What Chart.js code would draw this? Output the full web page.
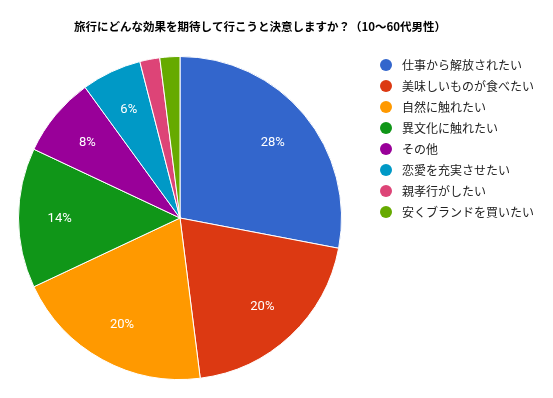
<!DOCTYPE html>
<html>
<head>
<meta charset="utf-8">
<script src="https://cdn.jsdelivr.net/npm/chart.js@4"></script>
<style>
  html, body { margin: 0; padding: 0; background: #fff; }
  #wrap { width: 553px; height: 398px; position: relative; }
</style>
</head>
<body>
<div id="wrap"><canvas id="myChart" width="553" height="398"></canvas></div>
<script>
const title = '旅行にどんな効果を期待して行こうと決意しますか？（10〜60代男性）';
const labels = ['仕事から解放されたい', '美味しいものが食べたい', '自然に触れたい', '異文化に触れたい',
                'その他', '恋愛を充実させたい', '親孝行がしたい', '安くブランドを買いたい'];
const values = [28, 20, 20, 14, 8, 6, 2, 2];
const colors = ['#3366cc', '#dc3912', '#ff9900', '#109618', '#990099', '#0099c6', '#dd4477', '#66aa00'];

const jpFont = '"Noto Sans CJK JP", "Noto Sans", sans-serif';

// タイトル・凡例・割合ラベルを描くプラグイン
const decor = {
    id: 'decor',
    afterDatasetsDraw(chart) {
        const ctx = chart.ctx;
        const total = values.reduce((a, b) => a + b, 0);

        // 割合ラベル
        ctx.save();
        ctx.fillStyle = '#fff';
        ctx.font = '13px Roboto, "Liberation Sans", Arial, sans-serif';
        ctx.textAlign = 'center';
        ctx.textBaseline = 'middle';
        chart.getDatasetMeta(0).data.forEach((arc, i) => {
            const pct = values[i] / total * 100;
            if (pct < 5) return;
            const p = arc.getProps(['x', 'y', 'startAngle', 'endAngle', 'outerRadius'], true);
            const mid = (p.startAngle + p.endAngle) / 2;
            const r = p.outerRadius * 0.745;
            ctx.fillText(Math.round(pct) + '%', p.x + Math.cos(mid) * r, p.y + Math.sin(mid) * r + 1);
        });
        ctx.restore();

        // タイトル
        ctx.save();
        ctx.fillStyle = '#000';
        ctx.font = 'bold 11.5px ' + jpFont;
        ctx.textAlign = 'center';
        ctx.textBaseline = 'middle';
        ctx.fillText(title, 260, 27);
        ctx.restore();

        // 凡例
        ctx.save();
        ctx.font = '12px ' + jpFont;
        ctx.textBaseline = 'middle';
        labels.forEach((label, i) => {
            const y = 65 + i * 21;
            ctx.fillStyle = colors[i];
            ctx.beginPath();
            ctx.arc(386, y, 6, 0, Math.PI * 2);
            ctx.fill();
            ctx.fillStyle = '#222';
            ctx.fillText(label, 402, y);
        });
        ctx.restore();
    }
};

new Chart(document.getElementById('myChart'), {
    type: 'pie',
    data: {
        labels: labels,
        datasets: [{
            data: values,
            backgroundColor: colors,
            borderColor: '#fff',
            borderWidth: 1
        }]
    },
    options: {
        responsive: false,
        animation: false,
        layout: { padding: { left: 18, top: 56, right: 211, bottom: 18 } },
        plugins: {
            legend: { display: false },
            tooltip: { enabled: false }
        }
    },
    plugins: [decor]
});
</script>
</body>
</html>
